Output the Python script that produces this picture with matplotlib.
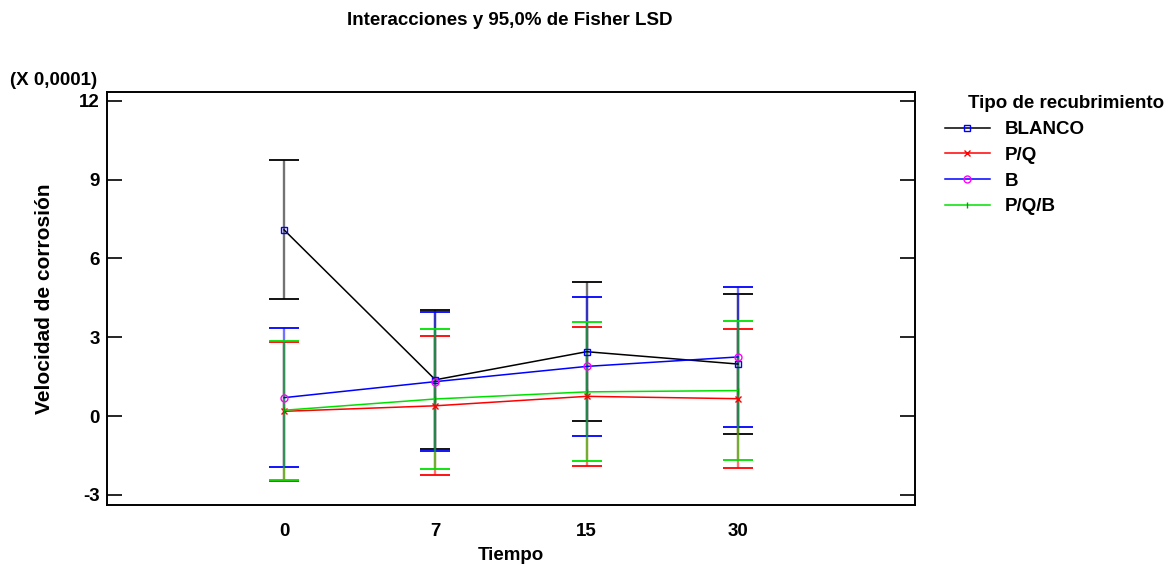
import matplotlib.pyplot as plt
import numpy as np

plt.rcParams['font.family'] = ['Liberation Sans', 'DejaVu Sans']
plt.rcParams['font.weight'] = 'bold'
plt.rcParams['axes.unicode_minus'] = False

# Tiempo levels and mean corrosion rate (x 0,0001) per coating type
tiempo = ['0', '7', '15', '30']
blanco = [7.09, 1.38, 2.45, 1.98]
pq = [0.18, 0.39, 0.75, 0.66]
b = [0.70, 1.31, 1.89, 2.25]
pqb = [0.22, 0.65, 0.92, 0.97]
# Fisher LSD half-interval
lsd = [2.65, 2.65, 2.65, 2.65]

series = [
    ('BLANCO', blanco, 'black', 's', 'blue'),
    ('P/Q', pq, 'red', 'x', 'red'),
    ('B', b, 'blue', 'o', 'magenta'),
    ('P/Q/B', pqb, '#00e000', '|', '#00a000'),
]

x = np.arange(len(tiempo))

fig = plt.figure(figsize=(11.75, 5.67), dpi=100)
ax = fig.add_axes([0.0911, 0.1102, 0.6876, 0.7275])

# interval bars first
for name, vals, col, mk, mcol in series:
    cont = ax.errorbar(x, vals, yerr=lsd, fmt='none', ecolor=col, elinewidth=1.7,
                       capsize=10.8, capthick=1.3, zorder=2)
    for bl in cont[2]:
        bl.set_alpha(0.55)

handles = []
for name, vals, col, mk, mcol in series:
    h, = ax.plot(x, vals, color=col, lw=1.1, marker=mk, markersize=5,
                 markerfacecolor='none', markeredgecolor=mcol, markeredgewidth=1.0,
                 label=name, zorder=3)
    handles.append(h)

ax.set_xlim(-1.17, 4.17)
ax.set_ylim(-3.37, 12.34)
ax.set_xticks(x)
ax.set_xticklabels(tiempo)
ax.set_yticks([-3, 0, 3, 6, 9, 12])
ax.tick_params(axis='x', length=0, labelsize=13.5, pad=13)
ax.tick_params(axis='y', direction='in', length=11, width=1.2, left=True, right=True,
               labelsize=13.5, pad=5)
for s in ax.spines.values():
    s.set_linewidth(1.4)

ax.set_xlabel('Tiempo', fontsize=13.5, fontweight='bold', labelpad=5)
ax.set_ylabel('Velocidad de corrosión', fontsize=15, fontweight='bold', labelpad=18)
fig.text(0.0085, 0.858, '(X 0,0001)', fontsize=13.5, fontweight='bold', va='center')
fig.text(0.4335, 0.963, 'Interacciones y 95,0% de Fisher LSD', fontsize=13.5,
         fontweight='bold', ha='center', va='center')

fig.text(0.824, 0.818, 'Tipo de recubrimiento', fontsize=13.5, fontweight='bold', va='center')
fig.legend(handles=handles, loc='upper left', bbox_to_anchor=(0.804, 0.786),
           frameon=False, fontsize=13.5, handlelength=2.4, handletextpad=0.8,
           labelspacing=0.45, borderaxespad=0, borderpad=0)

fig.savefig('out.png', dpi=100)
